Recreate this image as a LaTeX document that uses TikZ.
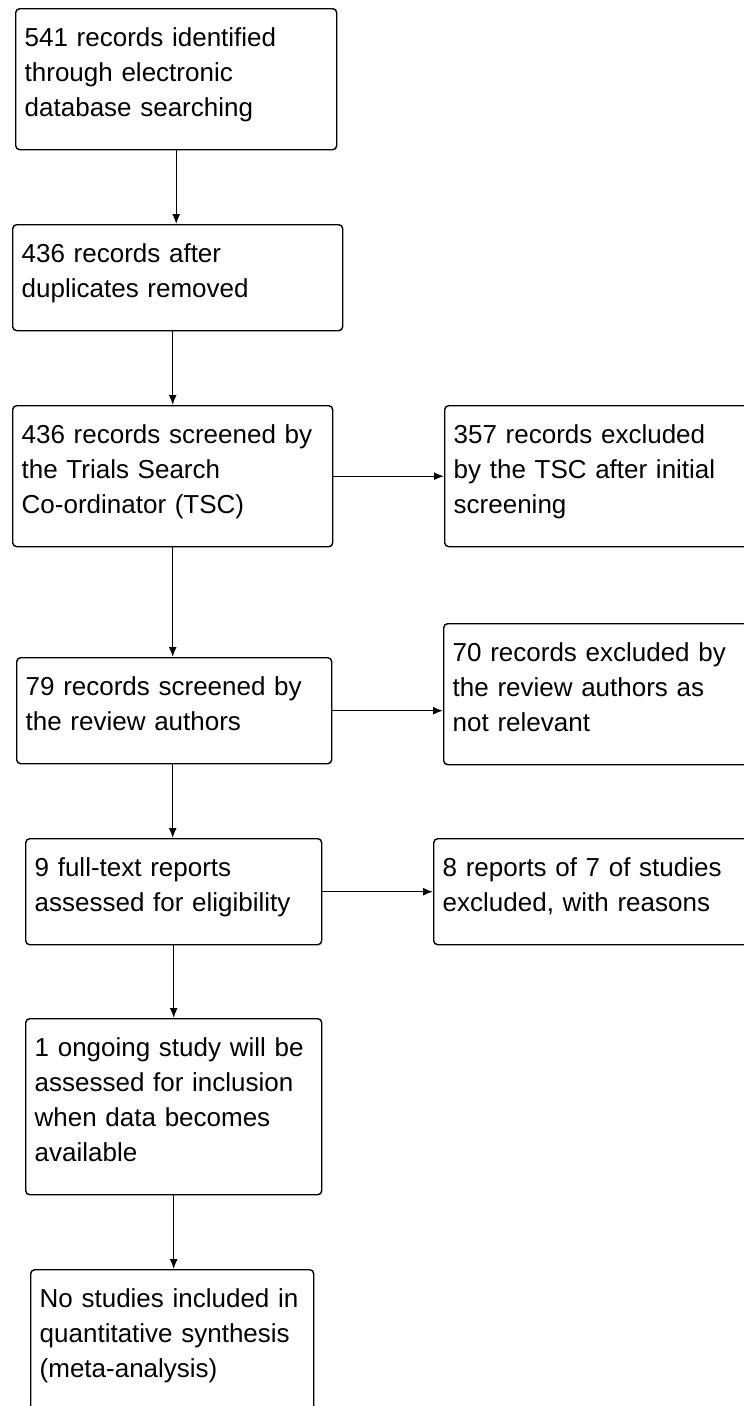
\documentclass[tikz,border=0pt]{standalone}
\usepackage{fontspec}
\setmainfont{Liberation Sans}
\usepackage{tikz}
\usetikzlibrary{arrows.meta,positioning}

\tikzset{
    flowbox/.style={draw, line width=1.4pt, rounded corners=4pt, anchor=north west,
        align=left, inner xsep=9pt, inner ysep=0pt, text height=38pt,
        font=\fontsize{26}{35}\selectfont},
    twoline/.style={text depth=68pt},
    threeline/.style={text depth=103pt},
    fourline/.style={text depth=138pt},
    flowarrow/.style={-{Latex[length=10pt,width=8pt]}, line width=1.4pt}
}

\begin{document}
\begin{tikzpicture}[x=1pt, y=-1pt]
        \useasboundingbox (0,0) rectangle (744,1406);

        % main column
        \node[flowbox, threeline, text width=303pt] (identified) at (15,8)
            {541 records identified\\through electronic\\database searching};
        \node[flowbox, twoline, text width=312pt] (duplicates) at (12,224)
            {436 records after\\duplicates removed};
        \node[flowbox, threeline, text width=302pt] (screenTSC) at (12,405)
            {436 records screened by\\the Trials Search\\Co-ordinator (TSC)};
        \node[flowbox, twoline, text width=297pt] (screenAuthors) at (16,657)
            {79 records screened by\\the review authors};
        \node[flowbox, twoline, text width=278pt] (fulltext) at (25,838)
            {9 full-text reports\\assessed for eligibility};
        \node[flowbox, fourline, text width=278pt] (ongoing) at (25,1018)
            {1 ongoing study will be\\assessed for inclusion\\when data becomes\\available};
        \node[flowbox, threeline, text width=265pt] (included) at (30,1269)
            {No studies included in\\quantitative synthesis\\(meta-analysis)};

        % exclusions (cut off at the right edge)
        \node[flowbox, threeline, text width=312pt] (exclTSC) at (444,405)
            {357 records excluded\\by the TSC after initial\\screening};
        \node[flowbox, threeline, text width=312pt] (exclAuthors) at (443,623)
            {70 records excluded by\\the review authors as\\not relevant};
        \node[flowbox, twoline, text width=312pt] (exclReports) at (433,838)
            {8 reports of 7 of studies\\excluded, with reasons};

        % arrows down
        \draw[flowarrow] (identified.south) -- (identified.south |- duplicates.north);
        \draw[flowarrow] (screenTSC.north |- duplicates.south) -- (screenTSC.north);
        \draw[flowarrow] (screenTSC.south) -- (screenTSC.south |- screenAuthors.north);
        \draw[flowarrow] (screenTSC.south |- screenAuthors.south) -- (screenTSC.south |- fulltext.north);
        \draw[flowarrow] (fulltext.south) -- (fulltext.south |- ongoing.north);
        \draw[flowarrow] (ongoing.south) -- (ongoing.south |- included.north);

        % arrows right
        \draw[flowarrow] (screenTSC.east) -- (exclTSC.west |- screenTSC.east);
        \draw[flowarrow] (screenAuthors.east) -- (exclAuthors.west |- screenAuthors.east);
        \draw[flowarrow] (fulltext.east) -- (exclReports.west |- fulltext.east);
\end{tikzpicture}
\end{document}
